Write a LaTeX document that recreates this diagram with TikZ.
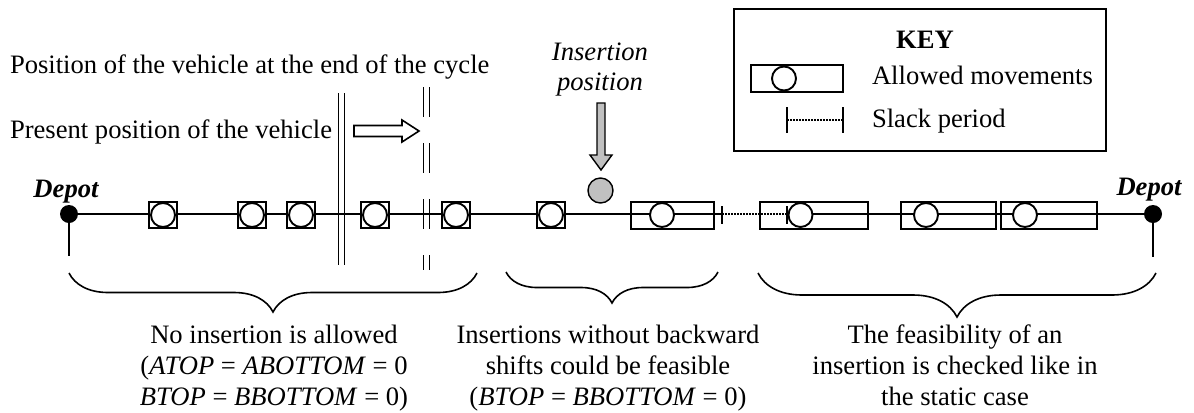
\documentclass[tikz,border=0pt]{standalone}
\usepackage{fontspec}
\setmainfont{Liberation Serif}
\usetikzlibrary{decorations.pathreplacing}
\definecolor{insgrey}{HTML}{C0C0C0}
\begin{document}
\begin{tikzpicture}[x=1bp,y=-1bp,
  txt/.style={font=\fontsize{26.6bp}{31.5bp}\selectfont, inner sep=0pt, outer sep=0pt},
  txtit/.style={font=\fontsize{26.6bp}{31.5bp}\selectfont\itshape, inner sep=0pt, outer sep=0pt},
  txtbf/.style={font=\fontsize{26.6bp}{31.5bp}\selectfont\bfseries, inner sep=0pt, outer sep=0pt},
  depotlbl/.style={font=\fontsize{26.6bp}{31.5bp}\selectfont\bfseries\itshape, inner sep=0pt, outer sep=0pt},
  ln/.style={line width=1.9bp},
  slackline/.style={line width=1.4bp, dash pattern=on 1.5bp off 1.5bp},
  sq/.style={draw, line width=1.9bp, minimum width=28bp, minimum height=26bp, inner sep=0pt, fill=white},
  rbox/.style={draw, line width=1.9bp, minimum height=27bp, inner sep=0pt},
  stop/.style={circle, draw, line width=1.9bp, fill=white, minimum size=24bp, inner sep=0pt},
  depotdot/.style={circle, fill=black, minimum size=18bp, inner sep=0pt},
  brc/.style={decorate, decoration={brace, amplitude=#1}, line width=1.6bp},
]
\useasboundingbox (0,0) rectangle (1194,412);

% ---------- main route ----------
\node[depotdot] (dL) at (69,214) {};
\node[depotdot] (dR) at (1153,214) {};
\coordinate (dLs) at (69,256);
\coordinate (dRs) at (1153,257);
\coordinate (t1) at (722,214);
\coordinate (t2) at (787,214);
\draw[ln] (dL.center) -- (t1);
\draw[slackline] (t1) -- (t2);
\draw[ln] (t2) -- (dR.center);
\draw[ln] (dL.center) -- (dLs);
\draw[ln] (dR.center) -- (dRs);
\draw[ln] (722,206) -- (722,224);
\draw[ln] (787,206) -- (787,224);

\node[depotlbl, anchor=base] (lblL) at (66,197) {Depot};
\node[depotlbl, anchor=base] (lblR) at (1149,195) {Depot};

% squares (fixed customers)
\foreach \i/\x in {1/163,2/252,3/301,4/375,5/456,6/551}{
  \node[sq] (s\i) at (\x,215) {};
  \node[stop] (c\i) at (s\i) {};
}

% rectangles (allowed movements)
\node[rbox, minimum width=83bp] (r1) at (672.5,215.5) {};
\node[rbox, minimum width=108bp] (r2) at (814,215.5) {};
\node[rbox, minimum width=95bp] (r3) at (948.5,215.5) {};
\node[rbox, minimum width=96bp] (r4) at (1049,215.5) {};
\node[stop] (rc1) at (662,215) {};
\node[stop] (rc2) at (800.5,215) {};
\node[stop] (rc3) at (926,215) {};
\node[stop] (rc4) at (1025,215) {};

% ---------- vehicle positions ----------
\draw[ln] (338.5,93) -- (338.5,265);
\draw[ln] (344.5,93) -- (344.5,265);
\draw[ln, dash pattern=on 30bp off 26bp] (423.5,87) -- (423.5,270);
\draw[ln, dash pattern=on 30bp off 26bp] (429.5,87) -- (429.5,270);
\draw[line width=1.6bp, fill=white] (354,125.5) -- (402,125.5) -- (402,120) -- (419,131) -- (402,142) -- (402,136.5) -- (354,136.5) -- cycle;

\node[txt, anchor=base west] (endpos) at (10,73) {Position of the vehicle at the end of the cycle};
\node[txt, anchor=base west] (prespos) at (10,138) {Present position of the vehicle};

% ---------- insertion ----------
\node[txtit, anchor=base] (ins1) at (600,60) {Insertion};
\node[txtit, anchor=base] (ins2) at (600,90) {position};
\draw[line width=1.4bp, fill=insgrey] (597,103) -- (605,103) -- (605,155) -- (612,155) -- (601,170) -- (590,155) -- (597,155) -- cycle;
\node[circle, draw, line width=1.4bp, fill=insgrey, minimum size=25bp, inner sep=0pt] (newc) at (600.5,190.5) {};

% ---------- key ----------
\node[draw, ln, minimum width=372bp, minimum height=142bp, inner sep=0pt] (key) at (920,80) {};
\node[txtbf, anchor=base] (keyt) at (925,48) {KEY};
\node[rbox, minimum width=92bp] (krect) at (797,78.5) {};
\node[stop] (kc) at (784,78.5) {};
\node[txt, anchor=base west] (kallow) at (872,84) {Allowed movements};
\coordinate (k1) at (787,120);
\coordinate (k2) at (843,120);
\draw[slackline] (k1) -- (k2);
\draw[ln] (787,107) -- (787,133);
\draw[ln] (843,107) -- (843,133);
\node[txt, anchor=base west] (kslack) at (872,127) {Slack period};

% ---------- braces ----------
\draw[brc=39bp] (477,273) -- (69,273);
\draw[brc=31bp] (718,272) -- (506,272);
\draw[brc=44bp] (1156,273) -- (758,273);

\node[txt, anchor=base] (a1) at (274,343) {No insertion is allowed};
\node[txt, anchor=base] (a2) at (274,374) {(\textit{ATOP} = \textit{ABOTTOM} = 0};
\node[txt, anchor=base] (a3) at (274,405) {\textit{BTOP} = \textit{BBOTTOM} = 0)};

\node[txt, anchor=base] (b1) at (608,343) {Insertions without backward};
\node[txt, anchor=base] (b2) at (608,374) {shifts could be feasible};
\node[txt, anchor=base] (b3) at (608,405) {(\textit{BTOP} = \textit{BBOTTOM} = 0)};

\node[txt, anchor=base] (c1t) at (955,343) {The feasibility of an};
\node[txt, anchor=base] (c2t) at (955,374) {insertion is checked like in};
\node[txt, anchor=base] (c3t) at (955,405) {the static case};
\end{tikzpicture}
\end{document}
